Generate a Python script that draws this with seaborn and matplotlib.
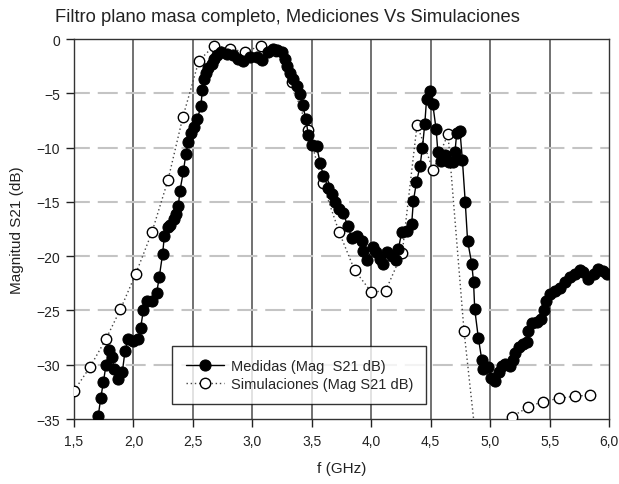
import matplotlib
matplotlib.use("Agg")
import matplotlib.pyplot as plt
import seaborn as sns
import pandas as pd

# Measured S21 magnitude (dB) vs frequency (GHz)
freq_med = [1.704, 1.724, 1.747, 1.769, 1.797, 1.817, 1.839, 1.873, 1.906, 1.929,
            1.957, 1.999, 2.04, 2.06, 2.083, 2.117, 2.153, 2.195, 2.217, 2.245,
            2.26, 2.288, 2.307, 2.34, 2.358, 2.377, 2.39, 2.42, 2.44, 2.46,
            2.48, 2.51, 2.537, 2.566, 2.58, 2.593, 2.61, 2.63, 2.658, 2.677,
            2.70, 2.74, 2.784, 2.84, 2.88, 2.924, 2.98, 3.036, 3.08, 3.134,
            3.176, 3.21, 3.247, 3.275, 3.294, 3.317, 3.345, 3.373, 3.40, 3.424,
            3.45, 3.47, 3.50, 3.54, 3.57, 3.597, 3.64, 3.667, 3.695, 3.73,
            3.765, 3.80, 3.837, 3.88, 3.92, 3.934, 3.96, 4.017, 4.04, 4.07,
            4.096, 4.13, 4.17, 4.208, 4.228, 4.256, 4.30, 4.34, 4.354, 4.38,
            4.41, 4.43, 4.45, 4.465, 4.49, 4.517, 4.545, 4.56, 4.59, 4.62,
            4.655, 4.685, 4.704, 4.718, 4.746, 4.766, 4.79, 4.81, 4.845, 4.86,
            4.87, 4.90, 4.93, 4.94, 4.98, 5.01, 5.04, 5.07, 5.10, 5.125,
            5.167, 5.195, 5.21, 5.24, 5.28, 5.31, 5.32, 5.35, 5.39, 5.43,
            5.45, 5.47, 5.50, 5.545, 5.59, 5.63, 5.67, 5.71, 5.755, 5.78,
            5.82, 5.87, 5.91, 5.95, 5.98]
mag_med = [-34.7, -33.1, -31.6, -30.0, -28.6, -29.3, -30.4, -31.3, -30.7, -28.7,
           -27.6, -27.8, -27.6, -26.6, -25.0, -24.1, -24.1, -23.4, -21.9, -19.8,
           -18.1, -17.3, -17.1, -16.6, -16.1, -15.4, -14.0, -12.2, -10.6, -9.5,
           -8.7, -8.1, -7.4, -6.2, -4.7, -3.7, -3.1, -2.7, -2.3, -1.8,
           -1.5, -1.2, -1.4, -1.5, -1.8, -2.0, -1.7, -1.7, -1.9, -1.2,
           -0.9, -1.0, -1.2, -1.8, -2.5, -3.1, -3.7, -4.3, -5.1, -6.1,
           -7.4, -8.8, -9.8, -9.9, -11.4, -12.6, -13.7, -14.3, -15.0, -15.7,
           -16.0, -17.2, -18.3, -18.1, -18.6, -19.5, -20.4, -19.2, -19.6, -20.3,
           -20.7, -19.6, -20.0, -20.4, -19.3, -17.8, -17.7, -17.0, -14.9, -13.2,
           -11.7, -10.0, -7.8, -5.5, -4.8, -6.0, -8.3, -10.4, -11.2, -10.7,
           -11.3, -11.3, -10.4, -8.7, -8.5, -11.1, -15.0, -18.6, -20.7, -22.4,
           -24.9, -27.5, -29.6, -30.4, -30.2, -31.2, -31.5, -30.7, -30.1, -29.9,
           -30.1, -29.6, -28.9, -28.4, -28.1, -27.9, -26.9, -26.2, -26.1, -25.8,
           -25.0, -24.1, -23.5, -23.2, -22.9, -22.4, -21.9, -21.6, -21.3, -21.5,
           -22.1, -21.6, -21.2, -21.4, -21.6]

# Simulated S21 magnitude (dB)
freq_sim = [1.50, 1.635, 1.77, 1.89, 2.02, 2.155, 2.29, 2.415, 2.55, 2.68,
            2.81, 2.94, 3.07, 3.20, 3.33, 3.47, 3.59, 3.73, 3.86, 4.00,
            4.12, 4.26, 4.385, 4.52, 4.645, 4.78, 4.91, 5.05, 5.18, 5.32,
            5.44, 5.58, 5.71, 5.84]
mag_sim = [-32.4, -30.2, -27.6, -24.9, -21.6, -17.8, -13.0, -7.2, -2.0, -0.6,
           -0.9, -1.2, -0.6, -1.1, -4.0, -8.4, -13.3, -17.8, -21.3, -23.3,
           -23.2, -19.7, -7.9, -12.1, -8.75, -26.9, -40.0, -37.5, -34.8, -33.9,
           -33.4, -33.1, -32.9, -32.8]

x_ticks = [1.5, 2.0, 2.5, 3.0, 3.5, 4.0, 4.5, 5.0, 5.5, 6.0]
x_tick_labels = ["1,5", "2,0", "2,5", "3,0", "3,5", "4,0", "4,5", "5,0", "5,5", "6,0"]
y_ticks = [0, -5, -10, -15, -20, -25, -30, -35]

df_med = pd.DataFrame({"f": freq_med, "mag": mag_med})
df_sim = pd.DataFrame({"f": freq_sim, "mag": mag_sim})

sns.set_style("ticks")
plt.rcParams["font.family"] = ["Liberation Sans", "DejaVu Sans"]
plt.rcParams.update({
    "xtick.bottom": True, "ytick.left": True,
    "xtick.major.size": 6, "ytick.major.size": 6,
    "xtick.major.width": 1.0, "ytick.major.width": 1.0,
    "xtick.color": "#222222", "ytick.color": "#222222",
})

fig, ax = plt.subplots(figsize=(6.19, 4.85), dpi=100)
fig.subplots_adjust(left=0.1196, right=0.984, top=0.9175, bottom=0.134)

# grid: solid vertical lines, dashed horizontal lines
for xv in x_ticks[1:-1]:
    ax.axvline(xv, color="#4a4a4a", lw=1.1, zorder=0)
for yv in y_ticks[1:-1]:
    ax.axhline(yv, color="#c4c4c4", lw=1.5, ls=(2, (9.6, 3.8)), zorder=0)

sns.lineplot(data=df_sim, x="f", y="mag", ax=ax, sort=False, estimator=None,
             color="#444444", lw=1.0, ls=(0, (1, 2)), marker="o", markersize=7.5,
             markerfacecolor="white", markeredgecolor="black", markeredgewidth=1.0,
             label="Simulaciones (Mag S21 dB)", zorder=3)
sns.lineplot(data=df_med, x="f", y="mag", ax=ax, sort=False, estimator=None,
             color="black", lw=1.0, marker="o", markersize=8,
             markerfacecolor="black", markeredgecolor="black",
             label="Medidas (Mag  S21 dB)", zorder=4)

ax.set_xlim(1.5, 6.0)
ax.set_ylim(-35, 0)
ax.set_xticks(x_ticks)
ax.set_xticklabels(x_tick_labels)
ax.set_yticks(y_ticks)
ax.tick_params(axis="both", which="major", direction="out", labelsize=10,
               labelcolor="#222222", pad=4)
ax.tick_params(axis="x", pad=5)
for sp in ax.spines.values():
    sp.set_visible(True)
    sp.set_color("#333333")
    sp.set_linewidth(1.0)

ax.set_xlabel("f (GHz)", fontsize=11, color="#222222", labelpad=9)
ax.set_ylabel("Magnitud S21 (dB)", fontsize=11, color="#222222", labelpad=9)
fig.text(287 / 619, 1 - 18 / 485, "Filtro plano masa completo, Mediciones Vs Simulaciones",
         ha="center", va="center", fontsize=13.2, color="#222222")

handles, labels = ax.get_legend_handles_labels()
order = [1, 0]
leg = ax.legend([handles[i] for i in order], [labels[i] for i in order],
                loc="lower left", bbox_to_anchor=(0.184, 0.04), frameon=True,
                fancybox=False, edgecolor="black", fontsize=10.5,
                handlelength=2.6, handletextpad=0.5, borderpad=0.9,
                labelspacing=0.25, borderaxespad=0)
leg.get_frame().set_linewidth(1.0)

fig.savefig("out.png", dpi=100)
